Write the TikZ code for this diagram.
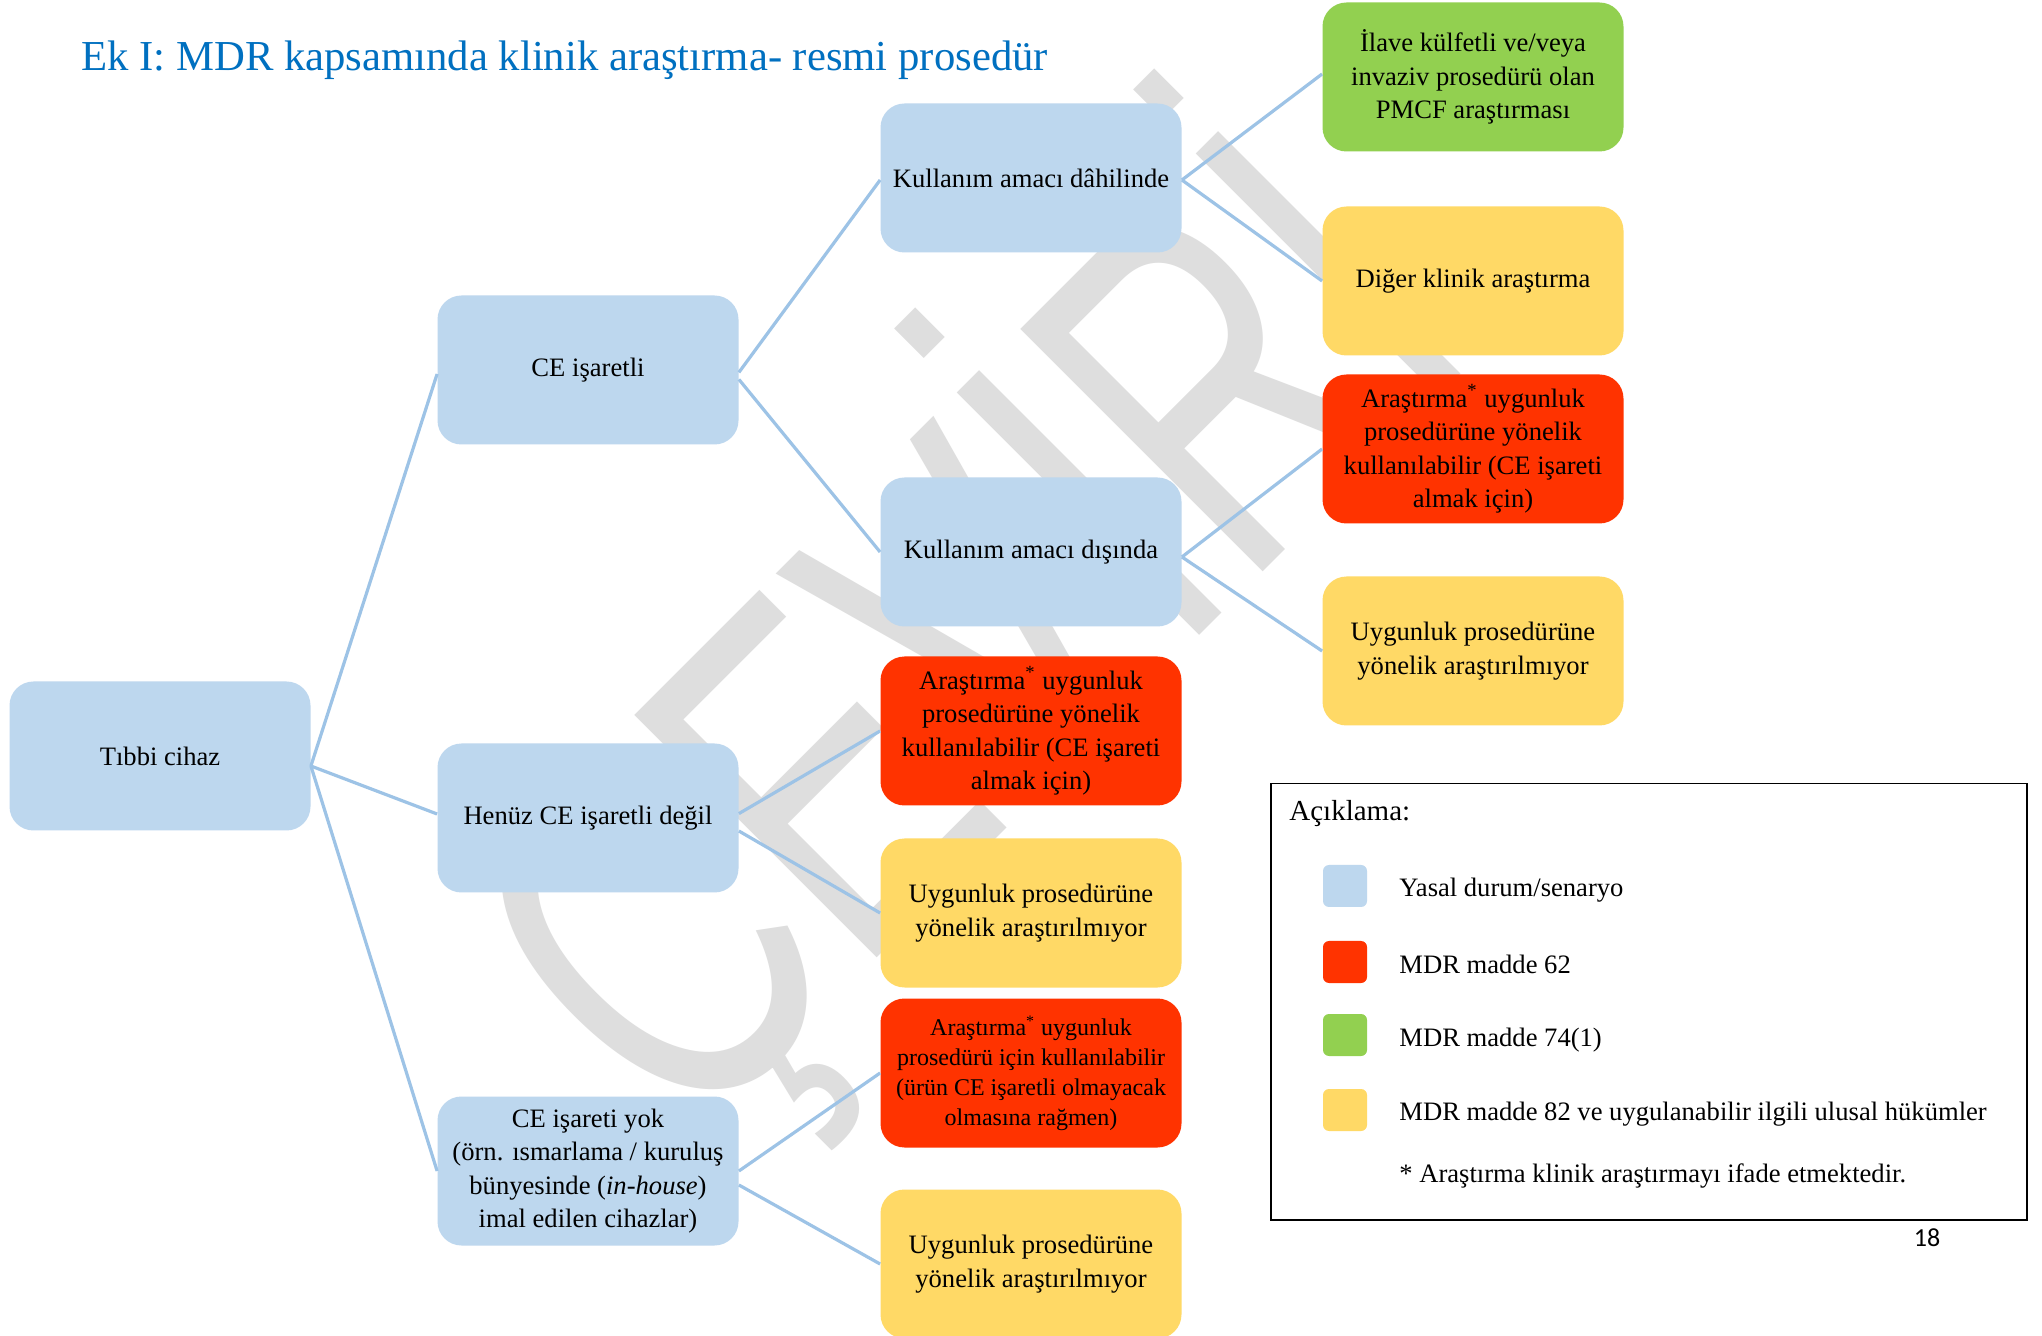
\documentclass[tikz,border=0pt]{standalone}
\usepackage{fontspec}
\usepackage{graphicx}
\setmainfont{Liberation Serif}
\newfontfamily\wmfont{Liberation Sans}
\newfontfamily\pgfont{Carlito}
\definecolor{boxblue}{HTML}{BDD7EE}
\definecolor{boxred}{HTML}{FF3300}
\definecolor{boxgreen}{HTML}{92D050}
\definecolor{boxyellow}{HTML}{FFD966}
\definecolor{linkblue}{HTML}{9DC3E6}
\definecolor{titleblue}{HTML}{0070C0}
\definecolor{wmgray}{HTML}{DEDEDE}
\begin{document}
\begin{tikzpicture}[x=0.5pt, y=-0.5pt,
  card/.style={rounded corners=12pt, minimum width=150.5pt, minimum height=74.5pt,
    inner sep=2pt, align=center, font=\fontsize{13.3}{16.75}\selectfont},
  blu/.style={card, fill=boxblue},
  rd/.style={card, fill=boxred},
  yl/.style={card, fill=boxyellow},
  gr/.style={card, fill=boxgreen},
  link/.style={draw=linkblue, line width=1.6pt},
  swatch/.style={rounded corners=3pt, minimum width=22pt, minimum height=21pt, inner sep=0pt},
  lt/.style={anchor=base west, inner sep=0pt, font=\fontsize{13.3}{15}\selectfont}
]
\fill[white] (0,0) rectangle (2042,1336);
\useasboundingbox (0,0) rectangle (2042,1336);

% watermark
\node[rotate=45, anchor=base west, inner sep=0pt, text=wmgray,
  font=\wmfont\fontsize{169.5}{170}\selectfont] (wm) at (684,1151) {\scalebox{1}[1.47]{ÇEVİRİ}};

% title
\node[anchor=base west, inner sep=0pt, text=titleblue, font=\fontsize{21.35}{24}\selectfont]
  (title) at (81,71) {Ek I: MDR kapsamında klinik araştırma- resmi prosedür};

% boxes
\node[blu] (tc) at (160,756) {Tıbbi cihaz};
\node[blu] (ce) at (588,370) {CE işaretli};
\node[blu] (hz) at (588,818) {Henüz CE işaretli değil};
\node[blu] (yok) at (588,1171) {CE işareti yok\\(örn. ısmarlama / kuruluş\\bünyesinde (\textit{in-house})\\imal edilen cihazlar)};
\node[blu] (kd) at (1031,178) {Kullanım amacı dâhilinde};
\node[blu] (kt) at (1031,552) {Kullanım amacı dışında};
\node[rd] (hr) at (1031,731) {Araştırma\textsuperscript{*} uygunluk\\prosedürüne yönelik\\kullanılabilir (CE işareti\\almak için)};
\node[yl] (hy) at (1031,913) {Uygunluk prosedürüne\\yönelik araştırılmıyor};
\node[rd, font=\fontsize{12}{15}\selectfont] (yr) at (1031,1073) {Araştırma\textsuperscript{*} uygunluk\\prosedürü için kullanılabilir\\(ürün CE işaretli olmayacak\\olmasına rağmen)};
\node[yl] (yy) at (1031,1264) {Uygunluk prosedürüne\\yönelik araştırılmıyor};
\node[gr] (g1) at (1473,77) {İlave külfetli ve/veya\\invaziv prosedürü olan\\PMCF araştırması};
\node[yl] (g2) at (1473,281) {Diğer klinik araştırma};
\node[rd] (r1) at (1473,449) {Araştırma\textsuperscript{*} uygunluk\\prosedürüne yönelik\\kullanılabilir (CE işareti\\almak için)};
\node[yl] (r2) at (1473,651) {Uygunluk prosedürüne\\yönelik araştırılmıyor};

% connectors
\draw[link] ([yshift=-5pt]tc.east) -- ([yshift=-2pt]ce.west);
\draw[link] ([yshift=-5pt]tc.east) -- ([yshift=2pt]hz.west);
\draw[link] ([yshift=-5pt]tc.east) -- (yok.west);
\draw[link] ([yshift=-1.2pt]ce.east) -- ([yshift=-1pt]kd.west);
\draw[link] ([yshift=-4.7pt]ce.east) -- (kt.west);
\draw[link] ([yshift=-1pt]kd.east) -- ([yshift=1.5pt]g1.west);
\draw[link] ([yshift=-1pt]kd.east) -- (g2.west);
\draw[link] ([yshift=-2.5pt]kt.east) -- (r1.west);
\draw[link] ([yshift=-2.5pt]kt.east) -- (r2.west);
\draw[link] ([yshift=2.2pt]hz.east) -- (hr.west);
\draw[link] ([yshift=-6.5pt]hz.east) -- (hy.west);
\draw[link] (yok.east) -- (yr.west);
\draw[link] ([yshift=-7pt]yok.east) -- (yy.west);

% legend
\node[draw=black, line width=0.75pt, minimum width=378pt, minimum height=218pt,
  anchor=north west, inner sep=0pt] (leg) at (1270,783) {};
\node[lt, font=\fontsize{14.5}{16}\selectfont] (lh) at (1289,821) {Açıklama:};
\node[swatch, fill=boxblue] (s1) at (1345,886) {};
\node[swatch, fill=boxred] (s2) at (1345,962) {};
\node[swatch, fill=boxgreen] (s3) at (1345,1035) {};
\node[swatch, fill=boxyellow] (s4) at (1345,1110) {};
\node[lt] (l1) at (1399,897) {Yasal durum/senaryo};
\node[lt] (l2) at (1399,973) {MDR madde 62};
\node[lt] (l3) at (1399,1046) {MDR madde 74(1)};
\node[lt] (l4) at (1399,1120) {MDR madde 82 ve uygulanabilir ilgili ulusal hükümler};
\node[lt] (fn) at (1399,1182) {* Araştırma klinik araştırmayı ifade etmektedir.};
\node[anchor=base, inner sep=0pt, font=\pgfont\fontsize{13}{15}\selectfont] (pg) at (1927,1246) {18};
\end{tikzpicture}
\end{document}
